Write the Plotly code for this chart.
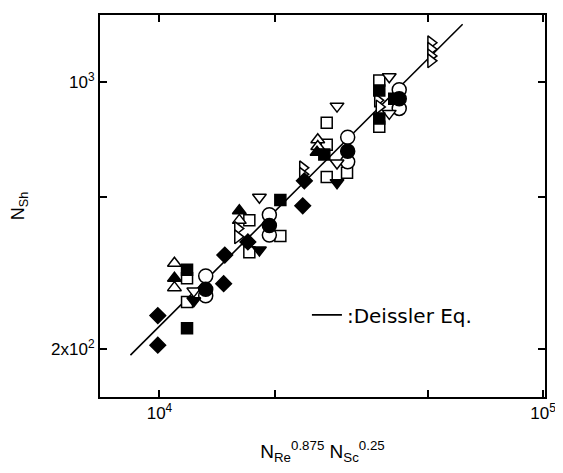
import plotly.graph_objects as go

# ---- data ----
open_sq_x = [11800, 11800, 17150, 17150, 20660, 27290, 27290, 27290, 30830, 37410, 37410]
open_sq_y = [307, 266, 435, 359, 396, 784, 686, 565, 580, 1010, 765]

filled_sq_x = [11800, 11800, 20660, 26900, 37410, 37410, 40930]
filled_sq_y = [323, 227, 492, 647, 952, 804, 906]

open_circ_x = [13200, 13200, 19340, 19340, 30950, 30950, 42170, 42170]
open_circ_y = [311, 276, 450, 398, 718, 619, 956, 854]

filled_circ_x = [13200, 19340, 30950, 42170]
filled_circ_y = [287, 422, 660, 906]

open_tri_up_x = [10940, 10940, 16150, 25860, 25860]
open_tri_up_y = [336, 290, 435, 707, 679]

filled_tri_up_x = [10940, 16150, 25750]
filled_tri_up_y = [307, 461, 656]

open_tri_down_x = [12290, 18220, 29030, 29030, 39720, 39720]
open_tri_down_y = [284, 500, 866, 615, 1034, 829]

filled_tri_down_x = [12290, 18220, 29030]
filled_tri_down_y = [268, 364, 546]

filled_diamond_x = [9900, 9900, 14800, 14700, 17000, 23630, 23860]
filled_diamond_y = [245, 205, 353, 297, 382, 475, 552]

right_tri_x = [16000, 16000, 23630, 23630, 37060, 37410, 51000, 51000, 51000, 51000]
right_tri_y = [414, 394, 597, 574, 897, 862, 1269, 1220, 1172, 1138]

deissler_x = [8400, 61700]
deissler_y = [193, 1419]

x_tickvals = [1e4, 2e4, 5e4, 1e5]
x_ticktext = ["10<sup>4</sup>", "", "", "10<sup>5</sup>"]
y_tickvals = [200, 500, 1000]
y_ticktext = ["2x10<sup>2</sup>", "", "10<sup>3</sup>"]

FONT = "Liberation Sans, Arial, sans-serif"

fig = go.Figure()

fig.add_trace(go.Scatter(x=deissler_x, y=deissler_y, mode="lines",
                         line=dict(color="black", width=1.6),
                         name=":Deissler Eq.", showlegend=True))


def add_markers(xs, ys, symbol, fill, size):
    fig.add_trace(go.Scatter(
        x=xs, y=ys, mode="markers", showlegend=False,
        marker=dict(symbol=symbol, size=size, color=fill,
                    line=dict(color="black", width=1.5))))


add_markers(open_sq_x, open_sq_y, "square", "white", 11)
add_markers(open_circ_x, open_circ_y, "circle", "white", 14)
add_markers(open_tri_up_x, open_tri_up_y, "triangle-up", "white", 12)
add_markers(open_tri_down_x, open_tri_down_y, "triangle-down", "white", 12)
add_markers(right_tri_x, right_tri_y, "triangle-right", "white", 12)
add_markers(filled_sq_x, filled_sq_y, "square", "black", 11)
add_markers(filled_circ_x, filled_circ_y, "circle", "black", 14)
add_markers(filled_tri_up_x, filled_tri_up_y, "triangle-up", "black", 12)
add_markers(filled_tri_down_x, filled_tri_down_y, "triangle-down", "black", 12)
add_markers(filled_diamond_x, filled_diamond_y, "diamond", "black", 12)

axis_common = dict(showline=True, linecolor="black", linewidth=2, mirror="ticks",
                   ticks="inside", ticklen=7, tickwidth=2, tickcolor="black",
                   showgrid=False, zeroline=False,
                   tickfont=dict(family=FONT, size=17, color="black"))

fig.update_xaxes(type="log", range=[3.845, 5.005],
                 tickvals=x_tickvals, ticktext=x_ticktext,
                 title=dict(text="N<sub>Re</sub><sup>0.875</sup> N<sub>Sc</sub><sup>0.25</sup>",
                            font=dict(family=FONT, size=19, color="black"), standoff=22),
                 **axis_common)
fig.update_yaxes(type="log", range=[2.1761, 3.1761],
                 tickvals=y_tickvals, ticktext=y_ticktext,
                 title=dict(text="N<sub>Sh</sub>",
                            font=dict(family=FONT, size=18, color="black"), standoff=22),
                 **axis_common)

# the page body has an 8px default margin, so the figure is 8px smaller
fig.update_layout(
    width=555, height=465,
    margin=dict(l=92, r=18, t=5, b=76),
    plot_bgcolor="white", paper_bgcolor="white",
    legend=dict(x=0.465, y=0.215, xanchor="left", yanchor="middle",
                bgcolor="rgba(0,0,0,0)", borderwidth=0,
                font=dict(family="DejaVu Sans, sans-serif", size=20, color="black")),
)

fig.write_html("out.html")
